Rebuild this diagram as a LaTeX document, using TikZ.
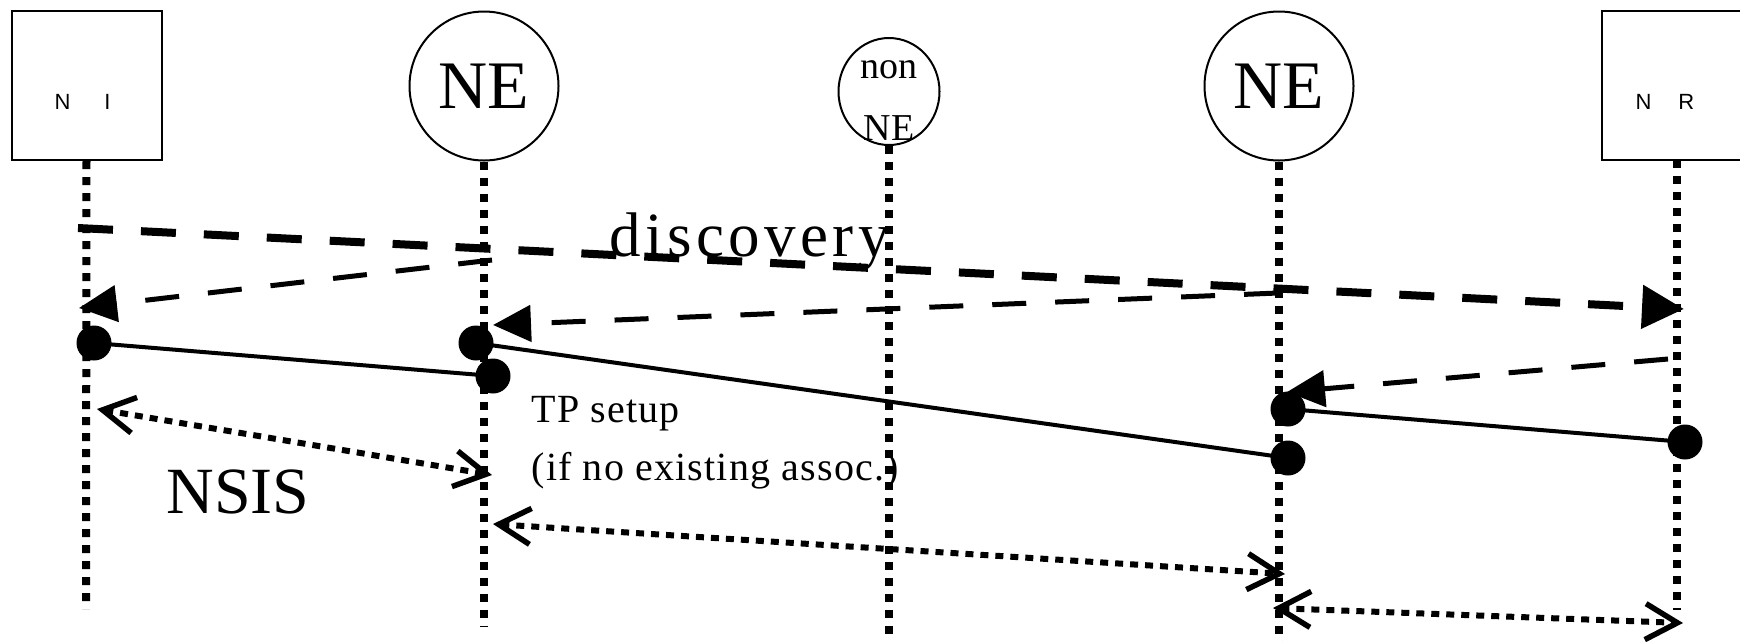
\documentclass[tikz,border=0pt]{standalone}
\usepackage{fontspec}
\setmainfont{Liberation Serif}
\newfontfamily\boxfont{Liberation Sans}
\usetikzlibrary{arrows.meta,shapes.geometric}

\begin{document}
\begin{tikzpicture}[x=1pt,y=-1pt,
  entitybox/.style={draw,line width=2pt,inner sep=0pt},
  entitycirc/.style={draw,circle,line width=2pt,inner sep=0pt,minimum size=149pt,
                     font=\fontsize{68}{68}\selectfont},
  lifeline/.style={line width=8pt,dash pattern=on 8pt off 8pt},
  discovery/.style={line width=8pt,dash pattern=on 35pt off 28pt,
                    -{Triangle[length=42pt,width=42pt]}},
  probe/.style={line width=5pt,dash pattern=on 34pt off 29pt,
                -{Triangle[length=38pt,width=36pt]}},
  nsisarrow/.style={line width=6pt,dash pattern=on 8pt off 7pt,
                {Straight Barb[length=32pt,width=36pt,line width=5.5pt]}-{Straight Barb[length=32pt,width=36pt,line width=5.5pt]}},
  tpline/.style={line width=4pt},
  sessdot/.style={circle,fill,inner sep=0pt,minimum size=35pt},
  boxlabel/.style={anchor=base west,font=\boxfont\fontsize{22}{22}\selectfont},
]
\clip (0,0) rectangle (1740,641);
\fill[white] (0,0) rectangle (1740,641);

% entities
\node[entitybox,minimum width=150pt,minimum height=149pt] (ni) at (86.5,85.5) {};
\node[boxlabel] (nilbl) at (51,109) {N\hspace{34pt}I};
\node[entitycirc] (ne1) at (484,86) {NE};
\node[draw,ellipse,line width=2pt,inner sep=0pt,minimum width=101pt,minimum height=107pt] (nn) at (889,91.5) {};
\node[anchor=base,font=\fontsize{38}{38}\selectfont] (nnt1) at (889,78) {non};
\node[anchor=base,font=\fontsize{38}{38}\selectfont] (nnt2) at (889,140) {NE};
\node[entitycirc] (ne2) at (1279,86) {NE};
\node[entitybox,minimum width=190pt,minimum height=149pt] (nr) at (1697,85.5) {};
\node[boxlabel] (nrlbl) at (1632,109) {N\hspace{27pt}R};

% lifelines
\coordinate (nrtop) at (1677,160);
\coordinate (niend) at (86,609);
\coordinate (ne1end) at (484,627);
\coordinate (nnend) at (889,700);
\coordinate (ne2end) at (1279,700);
\coordinate (nrend) at (1677,610);
\draw[lifeline] (ni.south) -- (niend);
\draw[lifeline] (ne1.south) -- (ne1end);
\draw[lifeline] (nn.south) -- (nnend);
\draw[lifeline] (ne2.south) -- (ne2end);
\draw[lifeline] (nrtop) -- (nrend);

% discovery messages
\coordinate (ds) at (78,228);
\coordinate (de) at (1684,309);
\draw[discovery] (ds) -- (de);
\node[anchor=base west,font=\fontsize{63}{63}\selectfont\addfontfeatures{LetterSpace=7}] (disc) at (606,256) {discovery};

\coordinate (p1s) at (492,260);
\coordinate (p1e) at (79,308);
\draw[probe] (p1s) -- (p1e);
\coordinate (p2s) at (1278,293);
\coordinate (p2e) at (493,325);
\draw[probe] (p2s) -- (p2e);
\coordinate (p3s) at (1668,359);
\coordinate (p3e) at (1287,392);
\draw[probe] (p3s) -- (p3e);

% transport setup
\node[sessdot] (d1) at (94,343) {};
\node[sessdot] (d2a) at (476,343) {};
\node[sessdot] (d2b) at (493,376) {};
\node[sessdot] (d3a) at (1288,409) {};
\node[sessdot] (d3b) at (1288,458) {};
\node[sessdot] (d4) at (1685,442) {};
\draw[tpline] (d1.center) -- (d2b.center);
\draw[tpline] (d2a.center) -- (d3b.center);
\draw[tpline] (d3a.center) -- (d4.center);

\node[anchor=base west,font=\fontsize{40}{40}\selectfont\addfontfeatures{LetterSpace=3}] (tp1) at (528,422) {TP setup};
\node[anchor=base west,font=\fontsize{40}{40}\selectfont\addfontfeatures{LetterSpace=3}] (tp2) at (528,480) {(if no existing assoc.)};

% NSIS signalling
\coordinate (n1a) at (97,409);
\coordinate (n1b) at (492,475);
\coordinate (n2a) at (493,524);
\coordinate (n2b) at (1285,574);
\coordinate (n3a) at (1273,608);
\coordinate (n3b) at (1683,623);
\draw[nsisarrow] (n1a) -- (n1b);
\draw[nsisarrow] (n2a) -- (n2b);
\draw[nsisarrow] (n3a) -- (n3b);
\node[anchor=base west,font=\fontsize{66}{66}\selectfont] (nsis) at (163,513) {NSIS};
\end{tikzpicture}
\end{document}
